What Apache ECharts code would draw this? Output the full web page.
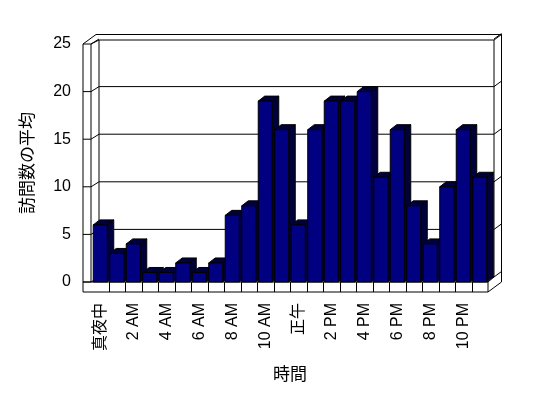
<!DOCTYPE html>
<html>
<head>
<meta charset="utf-8">
<script src="https://cdn.jsdelivr.net/npm/echarts@6/dist/echarts.min.js"></script>
<style>
  html, body { margin: 0; padding: 0; background: #fff; }
  #chart { width: 548px; height: 398px; }
</style>
</head>
<body>
<div id="chart"></div>
<script>
  // 時間ごとの訪問数の平均
  const hours = ['真夜中', '1 AM', '2 AM', '3 AM', '4 AM', '5 AM', '6 AM', '7 AM', '8 AM', '9 AM', '10 AM', '11 AM',
    '正午', '1 PM', '2 PM', '3 PM', '4 PM', '5 PM', '6 PM', '7 PM', '8 PM', '9 PM', '10 PM', '11 PM'];
  const visits = [6, 3, 4, 1, 1, 2, 1, 2, 7, 8, 19, 16, 6, 16, 19, 19, 20, 11, 16, 8, 4, 10, 16, 11];
  const yTicks = [0, 5, 10, 15, 20, 25];

  const FONT = "'Liberation Sans', 'Noto Sans CJK JP', sans-serif";
  const DX = 6.5, DY = 5; // 棒の奥行き

  const chart = echarts.init(document.getElementById('chart'));

  // 壁と床（背景の枠）
  function renderFrame(params, api) {
    const cs = params.coordSys;
    const x0 = cs.x, x1 = cs.x + cs.width;
    const yb = cs.y + cs.height;
    const lx = x0 - 9;          // 左壁の手前の線
    const bx0 = x0 + 7, bx1 = x1 + 6;   // 奥の壁
    const top = cs.y - 4, topOut = cs.y - 9.5;
    const band = api.size([1, 0])[0];
    const line = (a, b, c, d) => ({
      type: 'line', shape: { x1: a, y1: b, x2: c, y2: d },
      style: { stroke: '#000', lineWidth: 1 }
    });
    const kids = [];
    // 奥の壁の正面
    kids.push({ type: 'rect', shape: { x: bx0, y: top, width: bx1 - bx0, height: yb - 5 - top },
      style: { fill: '#fff', stroke: '#000', lineWidth: 1 } });
    yTicks.forEach(function (v) {
      const fy = api.coord([0, v])[1];
      if (v > 0 && v < 25) kids.push(line(bx0, fy - 5, bx1, fy - 5));
      // 左壁の目盛
      kids.push(line(lx, fy, x0 - 1, fy));
      kids.push(line(x0 - 1, fy, bx0, fy - 5));
      // 右側の厚み
      kids.push(line(bx1, fy - 5, bx1 + 7.5, fy - 10.5));
    });
    // 左壁
    kids.push(line(lx, cs.y, lx, yb + 10));
    kids.push(line(x0 - 1, cs.y, x0 - 1, yb));
    kids.push(line(lx, cs.y, lx + 13, topOut));
    kids.push(line(x0 - 1, cs.y, bx0, top));
    // 奥の壁の上と右の厚み
    kids.push(line(lx + 13, topOut, bx1 + 7.5, topOut));
    kids.push(line(bx1, top, bx1 + 7.5, topOut));
    kids.push(line(bx1 + 7.5, topOut, bx1 + 7.5, yb));
    // 床
    kids.push(line(lx, yb, x1, yb));
    kids.push(line(lx, yb + 10, x1, yb + 10));
    kids.push(line(x1, yb, x1, yb + 10));
    kids.push(line(x1, yb, bx1, yb - 5));
    kids.push(line(x1, yb + 10, bx1 + 7.5, yb));
    // 床の区切り
    for (let i = 1; i < hours.length; i++) {
      const bxp = Math.round(api.coord([i, 0])[0] - band / 2) + 0.5;
      kids.push(line(bxp, yb, bxp, yb + 10));
    }
    return { type: 'group', children: kids };
  }

  // 立体の棒
  function renderBar(params, api) {
    const v = api.value(1);
    const base = api.coord([api.value(0), 0]);
    const tip = api.coord([api.value(0), v]);
    const w = api.size([1, 0])[0] * 0.85;
    const xl = base[0] - w / 2, xr = base[0] + w / 2;
    const yt = tip[1], yb = base[1];
    const dark = { fill: '#00003a', stroke: '#000', lineWidth: 1 };
    return {
      type: 'group',
      children: [
        { type: 'polygon', shape: { points: [[xr, yt], [xr + DX, yt - DY], [xr + DX, yb - DY], [xr, yb]] }, style: dark },
        { type: 'polygon', shape: { points: [[xl, yt], [xl + DX, yt - DY], [xr + DX, yt - DY], [xr, yt]] }, style: dark },
        { type: 'rect', shape: { x: xl, y: yt, width: w, height: yb - yt },
          style: { fill: '#000080', stroke: '#000', lineWidth: 1 } }
      ]
    };
  }

  chart.setOption({
    animation: false,
    backgroundColor: '#fff',
    grid: { left: 92, right: 60, top: 44, bottom: 116 },
    xAxis: {
      type: 'category',
      data: hours,
      name: '時間',
      nameLocation: 'middle',
      nameGap: 85,
      nameTextStyle: { fontSize: 17, color: '#000', fontFamily: FONT },
      axisLine: { show: false },
      axisTick: { show: false },
      axisLabel: { interval: 1, rotate: 90, margin: 21, fontSize: 16, color: '#000', fontFamily: FONT }
    },
    yAxis: {
      type: 'value',
      min: 0,
      max: 25,
      interval: 5,
      name: '訪問数の平均',
      nameLocation: 'middle',
      nameGap: 55,
      nameTextStyle: { fontSize: 17, color: '#000', fontFamily: FONT },
      axisLine: { show: false },
      axisTick: { show: false },
      splitLine: { show: false },
      axisLabel: { margin: 21, fontSize: 16, color: '#000', fontFamily: FONT }
    },
    series: [
      {
        type: 'custom',
        z: 1,
        silent: true,
        renderItem: renderFrame,
        data: [[0, 0]]
      },
      {
        type: 'custom',
        z: 2,
        renderItem: renderBar,
        encode: { x: 0, y: 1 },
        data: visits.map((v, i) => [i, v])
      }
    ]
  });
</script>
</body>
</html>
